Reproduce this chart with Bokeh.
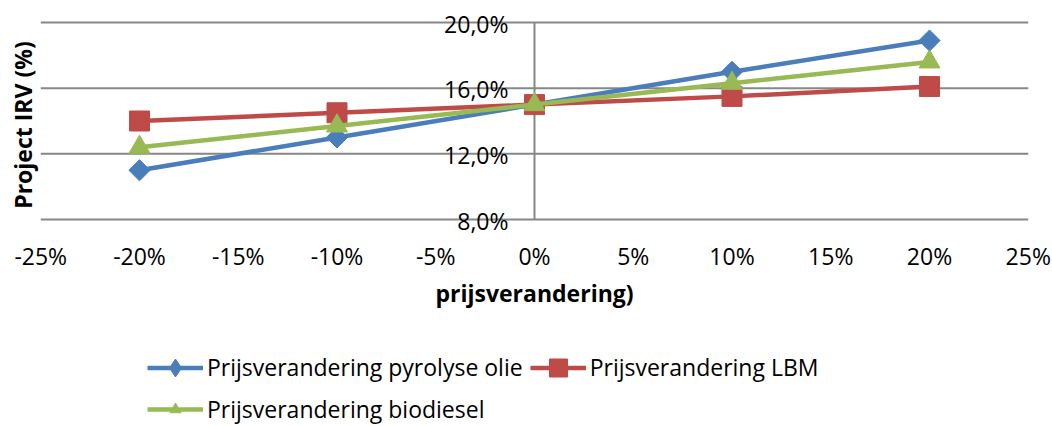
from math import pi
from bokeh.plotting import figure
from bokeh.models import Legend, LegendItem
from bokeh.core.properties import value
from bokeh.embed import file_html
from bokeh.resources import INLINE

# ---- data ----
price_change = [-20, -10, 0, 10, 20]
pyrolyse_olie = [11.0, 13.0, 15.0, 17.0, 18.9]
lbm = [14.0, 14.5, 15.0, 15.5, 16.1]
biodiesel = [12.4, 13.7, 15.0, 16.3, 17.6]
series_names = ["Prijsverandering pyrolyse olie", "Prijsverandering LBM", "Prijsverandering biodiesel"]
x_ticks = [-25, -20, -15, -10, -5, 0, 5, 10, 15, 20, 25]
x_tick_labels = ["-25%", "-20%", "-15%", "-10%", "-5%", "0%", "5%", "10%", "15%", "20%", "25%"]
y_ticks = [8, 12, 16, 20]
y_tick_labels = ["8,0%", "12,0%", "16,0%", "20,0%"]
x_title = "prijsverandering)"
y_title = "Project IRV (%)"

# ---- layout (pixels) ----
W, H = 1052, 426
PLOT_L, PLOT_R, PLOT_T, PLOT_B = 40.25, 1027.75, 22, 219

FONT = value("Open Sans")
FS = "23px"
BLUE = "#4A7EBB"
RED = "#BE4B48"
GREEN = "#98B954"
GRID = "#878787"
LW = 4.5

x0, x1 = x_ticks[0], x_ticks[-1]
y0, y1 = y_ticks[0], y_ticks[-1]
xs = (x1 - x0) / (PLOT_R - PLOT_L)
ys = (y1 - y0) / (PLOT_B - PLOT_T)
x_range = (x0 - PLOT_L * xs, x1 + (W - PLOT_R) * xs)
y_range = (y0 - (H - PLOT_B) * ys, y1 + PLOT_T * ys)

p = figure(width=W, height=H, x_range=x_range, y_range=y_range,
           output_backend="svg", toolbar_location=None,
           x_axis_location=None, y_axis_location=None,
           min_border=0, min_border_left=0, min_border_right=0,
           min_border_top=0, min_border_bottom=0)
p.outline_line_color = None
p.grid.visible = False

# horizontal gridlines and vertical value axis at x = 0
p.segment(x0=[x0] * len(y_ticks), x1=[x1] * len(y_ticks), y0=y_ticks, y1=y_ticks,
          line_color=GRID, line_width=2)
p.segment(x0=[0], x1=[0], y0=[y0], y1=[y1], line_color=GRID, line_width=2)

# tick labels
p.text(x=[0] * len(y_ticks), y=y_ticks, text=y_tick_labels, x_offset=-26, y_offset=1,
       text_align="right", text_baseline="middle", text_font=FONT,
       text_font_size=FS, text_color="black")
p.text(x=x_ticks, y=[y0] * len(x_ticks), text=x_tick_labels, y_offset=36,
       text_align="center", text_baseline="middle", text_font=FONT,
       text_font_size=FS, text_color="black")

# axis titles
p.text(x=[0], y=[y0], text=[x_title], y_offset=73, text_align="center",
       text_baseline="middle", text_font=FONT, text_font_size=FS,
       text_font_style="bold", text_color="black")
p.text(x=[x0], y=[(y0 + y1) / 2], text=[y_title], x_offset=-18, y_offset=4, angle=pi / 2,
       text_align="center", text_baseline="middle", text_font=FONT, text_font_size=FS,
       text_font_style="bold", text_color="black")

# series
lb = p.line(price_change, pyrolyse_olie, line_color=BLUE, line_width=LW)
sb = p.scatter(price_change, pyrolyse_olie, marker="square", angle=pi / 4, size=15,
               fill_color=BLUE, line_color=BLUE)
sb_leg = p.scatter(price_change, pyrolyse_olie, marker="diamond", size=15,
                   fill_color=BLUE, line_color=BLUE, visible=False)
lr = p.line(price_change, lbm, line_color=RED, line_width=LW)
sr = p.scatter(price_change, lbm, marker="square", size=20, fill_color=RED, line_color=RED)
lg = p.line(price_change, biodiesel, line_color=GREEN, line_width=LW)
sg = p.scatter(price_change, biodiesel, marker="triangle", size=21,
               fill_color=GREEN, line_color=GREEN)


def style(leg, gh):
    leg.border_line_color = None
    leg.background_fill_alpha = 0
    leg.padding = 0
    leg.margin = 0
    leg.glyph_width = 56
    leg.glyph_height = gh
    leg.label_height = gh
    leg.label_standoff = 4
    leg.spacing = 7
    leg.label_text_font = "Open Sans"
    leg.label_text_font_size = FS
    leg.label_text_color = "black"
    leg.label_text_baseline = "middle"


leg1 = Legend(items=[LegendItem(label=series_names[0], renderers=[lb, sb_leg]),
                     LegendItem(label=series_names[1], renderers=[lr, sr])],
              orientation="horizontal", location=(147, H - 367 - 22.5))
leg2 = Legend(items=[LegendItem(label=series_names[2], renderers=[lg, sg])],
              location=(147, H - 411 - 14))
style(leg1, 45)
style(leg2, 28)
p.add_layout(leg1)
p.add_layout(leg2)

open("out.html", "w").write(file_html(p, INLINE))
